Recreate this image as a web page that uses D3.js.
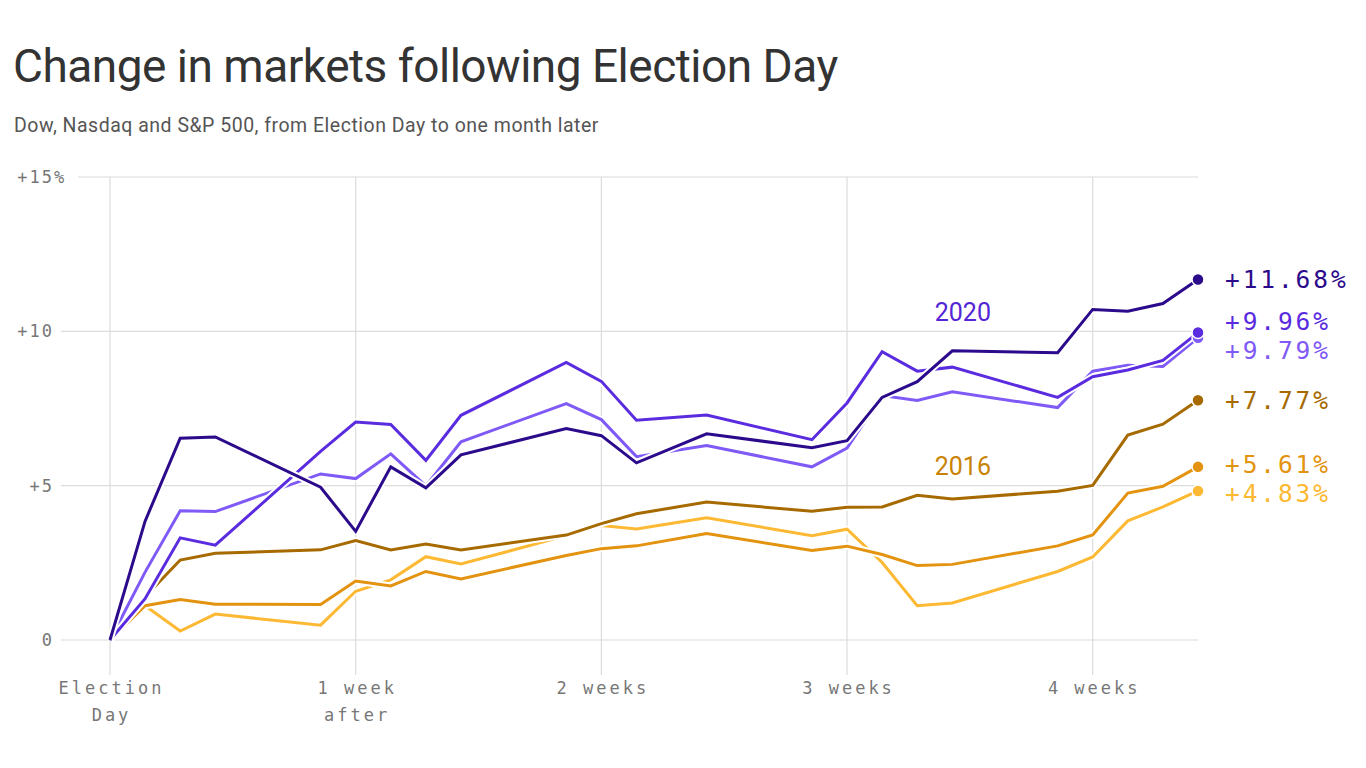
<!DOCTYPE html>
<html><head><meta charset="utf-8">
<script src="https://cdn.jsdelivr.net/npm/d3@7"></script>
<style>body{margin:0;background:#fff} svg{display:block}</style>
</head><body><svg id="c" width="1366" height="768"></svg>
<script>
// x positions: calendar days after Election Day (trading days)
const days = [0,1,2,3,6,7,8,9,10,13,14,15,17,20,21,22,23,24,27,28,29,30,31];

// 2016 series (% change)
const nasdaq2016 = [0,1.11,0.29,0.84,0.48,1.58,1.95,2.70,2.46,3.38,3.71,3.60,3.96,3.38,3.59,2.51,1.11,1.20,2.22,2.69,3.86,4.31,4.83];
const sp2016     = [0,1.11,1.31,1.16,1.15,1.91,1.75,2.22,1.98,2.74,2.96,3.05,3.45,2.90,3.04,2.77,2.41,2.45,3.05,3.40,4.76,4.98,5.61];
const dow2016    = [0,1.40,2.59,2.81,2.92,3.22,2.92,3.11,2.92,3.40,3.77,4.09,4.47,4.17,4.30,4.31,4.69,4.57,4.82,5.01,6.64,6.99,7.77];
// 2020 series (% change)
const sp2020     = [0,2.20,4.19,4.16,5.38,5.23,6.03,4.99,6.42,7.66,7.14,5.94,6.30,5.61,6.22,7.92,7.76,8.04,7.53,8.71,8.90,8.86,9.79];
const dow2020    = [0,1.34,3.31,3.07,6.11,7.06,6.98,5.82,7.28,8.99,8.38,7.12,7.29,6.49,7.68,9.34,8.71,8.84,7.86,8.53,8.75,9.06,9.96];
const nasdaq2020 = [0,3.85,6.54,6.58,4.95,3.52,5.61,4.93,6.00,6.85,6.62,5.74,6.68,6.23,6.46,7.86,8.37,9.37,9.31,10.71,10.65,10.90,11.68];

const seriesNames  = ["Nasdaq 2016","S&P 500 2016","Dow 2016","S&P 500 2020","Dow 2020","Nasdaq 2020"];
const seriesValues = [nasdaq2016, sp2016, dow2016, sp2020, dow2020, nasdaq2020];
const seriesColors = ["#fdb933","#e3930f","#a66a00","#7f5af6","#5a2bdf","#2c0a8c"];

const yTicks = [0,5,10,15];
const yTickLabels = ["0","+5","+10","+15"];
const xTicks = [0,7,14,21,28];
const xTickLabels = [["Election","Day"],["1 week","after"],["2 weeks"],["3 weeks"],["4 weeks"]];

const yearLabels = ["2020","2016"];
const yearLabelDay = [23.5, 23.5];
const yearLabelValue = [10.35, 5.33];
const yearLabelColors = ["#5425d6","#c98304"];

const svg = d3.select("#c");
const x = d3.scaleLinear().domain([0,31]).range([110,1198]);
const y = d3.scaleLinear().domain([0,15]).range([640,177]);
const mono = "'DejaVu Sans Mono', 'Liberation Mono', monospace";
const sans = "Roboto, 'Noto Sans', sans-serif";

// Title
svg.append("text").attr("x",13).attr("y",82)
  .attr("font-family",sans).attr("font-size",46).attr("fill","#333")
  .attr("letter-spacing","-0.5")
  .text("Change in markets following Election Day");
svg.append("text").attr("x",14).attr("y",132)
  .attr("font-family",sans).attr("font-size",19.5).attr("fill","#555")
  .attr("letter-spacing","0.5")
  .text("Dow, Nasdaq and S&P 500, from Election Day to one month later");

// Y grid + labels
const yg = svg.append("g");
yTicks.forEach((t,i)=>{
  const top = i === yTicks.length-1;
  yg.append("line").attr("x1", top?78:61).attr("x2",1198)
    .attr("y1",y(t)).attr("y2",y(t)).attr("stroke","#dcdcdc").attr("stroke-width",1.2);
  yg.append("text").attr("x",54).attr("y",y(t)).attr("dy","0.35em")
    .attr("text-anchor","end").attr("font-family",mono).attr("font-size",17)
    .attr("letter-spacing","2").attr("fill","#777").text(yTickLabels[i]);
  if(top){
    yg.append("text").attr("x",54).attr("y",y(t)).attr("dy","0.35em")
      .attr("font-family",mono).attr("font-size",17).attr("fill","#777").text("%");
  }
});
// X grid + labels
const xg = svg.append("g");
xTicks.forEach((t,i)=>{
  xg.append("line").attr("x1",x(t)).attr("x2",x(t)).attr("y1",177).attr("y2",675)
    .attr("stroke","#dcdcdc").attr("stroke-width",1.2);
  xTickLabels[i].forEach((s,j)=>{
    xg.append("text").attr("x",x(t)+1.5).attr("y",694+j*27).attr("text-anchor","middle")
      .attr("font-family",mono).attr("font-size",17).attr("letter-spacing","3")
      .attr("fill","#777").text(s);
  });
});

// Lines
const line = d3.line().x((d,i)=>x(days[i])).y(d=>y(d));
const lg = svg.append("g");
seriesValues.forEach((vals,k)=>{
  lg.append("path").datum(vals).attr("d",line).attr("fill","none")
    .attr("stroke","#fff").attr("stroke-width",7).attr("stroke-linejoin","round");
  lg.append("path").datum(vals).attr("d",line).attr("fill","none")
    .attr("stroke",seriesColors[k]).attr("stroke-width",3).attr("stroke-linejoin","miter");
});
// End dots
seriesValues.forEach((vals,k)=>{
  lg.append("circle").attr("cx",x(days[days.length-1])).attr("cy",y(vals[vals.length-1]))
    .attr("r",6).attr("fill",seriesColors[k]).attr("stroke","#fff").attr("stroke-width",1.5);
});

// End labels with collision avoidance
const labs = seriesValues.map((vals,k)=>({k, v: vals[vals.length-1], y: y(vals[vals.length-1])}));
const gap = 29;
for(let it=0; it<20; it++){
  labs.sort((a,b)=>a.y-b.y);
  for(let i=1;i<labs.length;i++){
    const d = labs[i].y - labs[i-1].y;
    if(d < gap){ const m=(gap-d)/2; labs[i].y+=m; labs[i-1].y-=m; }
  }
}
labs.forEach(l=>{
  svg.append("text").attr("x",1225).attr("y",l.y).attr("dy","0.36em")
    .attr("font-family",mono).attr("font-size",24.5).attr("letter-spacing","2.9")
    .attr("fill",seriesColors[l.k]).text(d3.format("+.2f")(l.v)+"%");
});

// Year annotations
yearLabels.forEach((s,i)=>{
  svg.append("text").attr("x",x(yearLabelDay[i])).attr("y",y(yearLabelValue[i]))
    .attr("font-family",sans).attr("font-size",25).attr("fill",yearLabelColors[i]).text(s);
});
</script></body></html>
